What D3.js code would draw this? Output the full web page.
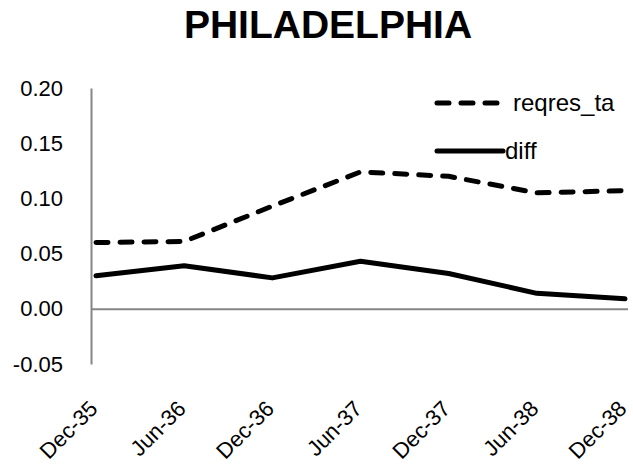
<!DOCTYPE html>
<html><head><meta charset="utf-8">
<script src="https://cdn.jsdelivr.net/npm/d3@7/dist/d3.min.js"></script>
<style>body{margin:0;background:#fff}svg{display:block}text{font-family:"Liberation Sans",Arial,sans-serif;fill:#000}</style>
</head><body><svg id="c" width="633" height="476"></svg>
<script>
const categories = ["Dec-35","Jun-36","Dec-36","Jun-37","Dec-37","Jun-38","Dec-38"];
const reqres_ta = [0.060, 0.061, 0.093, 0.124, 0.120, 0.105, 0.107];
const diff = [0.030, 0.039, 0.028, 0.043, 0.032, 0.014, 0.009];
const yTicks = [-0.05, 0.00, 0.05, 0.10, 0.15, 0.20];
const seriesNames = ["reqres_ta", "diff"];

const svg = d3.select("#c");
const x = d3.scalePoint().domain(categories).range([96, 625]);
const y = d3.scaleLinear().domain([-0.05, 0.20]).range([364, 88]);

svg.append("text").attr("x", 328).attr("y", 38).attr("text-anchor", "middle")
  .style("font-size", "39px").style("font-weight", "bold").text("PHILADELPHIA");

// y axis
const ya = svg.append("g").attr("transform", "translate(91,0)")
  .call(d3.axisLeft(y).tickValues(yTicks).tickFormat(d => d.toFixed(2)).tickSize(0).tickPadding(28));
ya.select(".domain").attr("stroke", "#868686").attr("stroke-width", 2);
ya.selectAll("text").style("font-size", "22px").style("font-family", '"Liberation Sans",Arial,sans-serif');

// x axis at zero
const xa = svg.append("g").attr("transform", `translate(0,${y(0)})`)
  .call(d3.axisBottom(x).tickSize(0).tickFormat(""));
xa.select(".domain").attr("d", `M91,0.5H628`).attr("stroke", "#868686").attr("stroke-width", 2);

// x labels rotated
svg.append("g").selectAll("text").data(categories).join("text")
  .attr("transform", d => `translate(${x(d) + 3},${410}) rotate(-45)`)
  .attr("text-anchor", "end")
  .style("font-size", "22px").text(d => d);

const line = d3.line().x((d, i) => x(categories[i])).y(d => y(d));
svg.append("path").datum(reqres_ta).attr("d", line).attr("fill", "none").attr("stroke", "#000")
  .attr("stroke-width", 5).attr("stroke-dasharray", "12,12").attr("stroke-linecap", "round").attr("stroke-linejoin", "round");
svg.append("path").datum(diff).attr("d", line).attr("fill", "none").attr("stroke", "#000")
  .attr("stroke-width", 5).attr("stroke-linecap", "round").attr("stroke-linejoin", "round");

// legend
const lg = svg.append("g");
lg.append("line").attr("x1", 437).attr("x2", 499).attr("y1", 103).attr("y2", 103)
  .attr("stroke", "#000").attr("stroke-width", 5).attr("stroke-dasharray", "12,12").attr("stroke-linecap", "round");
lg.append("text").attr("x", 513).attr("y", 111).style("font-size", "24px").text(seriesNames[0]);
lg.append("line").attr("x1", 437).attr("x2", 503).attr("y1", 151).attr("y2", 151)
  .attr("stroke", "#000").attr("stroke-width", 5).attr("stroke-linecap", "round");
lg.append("text").attr("x", 505).attr("y", 159).style("font-size", "24px").text(seriesNames[1]);
</script></body></html>
